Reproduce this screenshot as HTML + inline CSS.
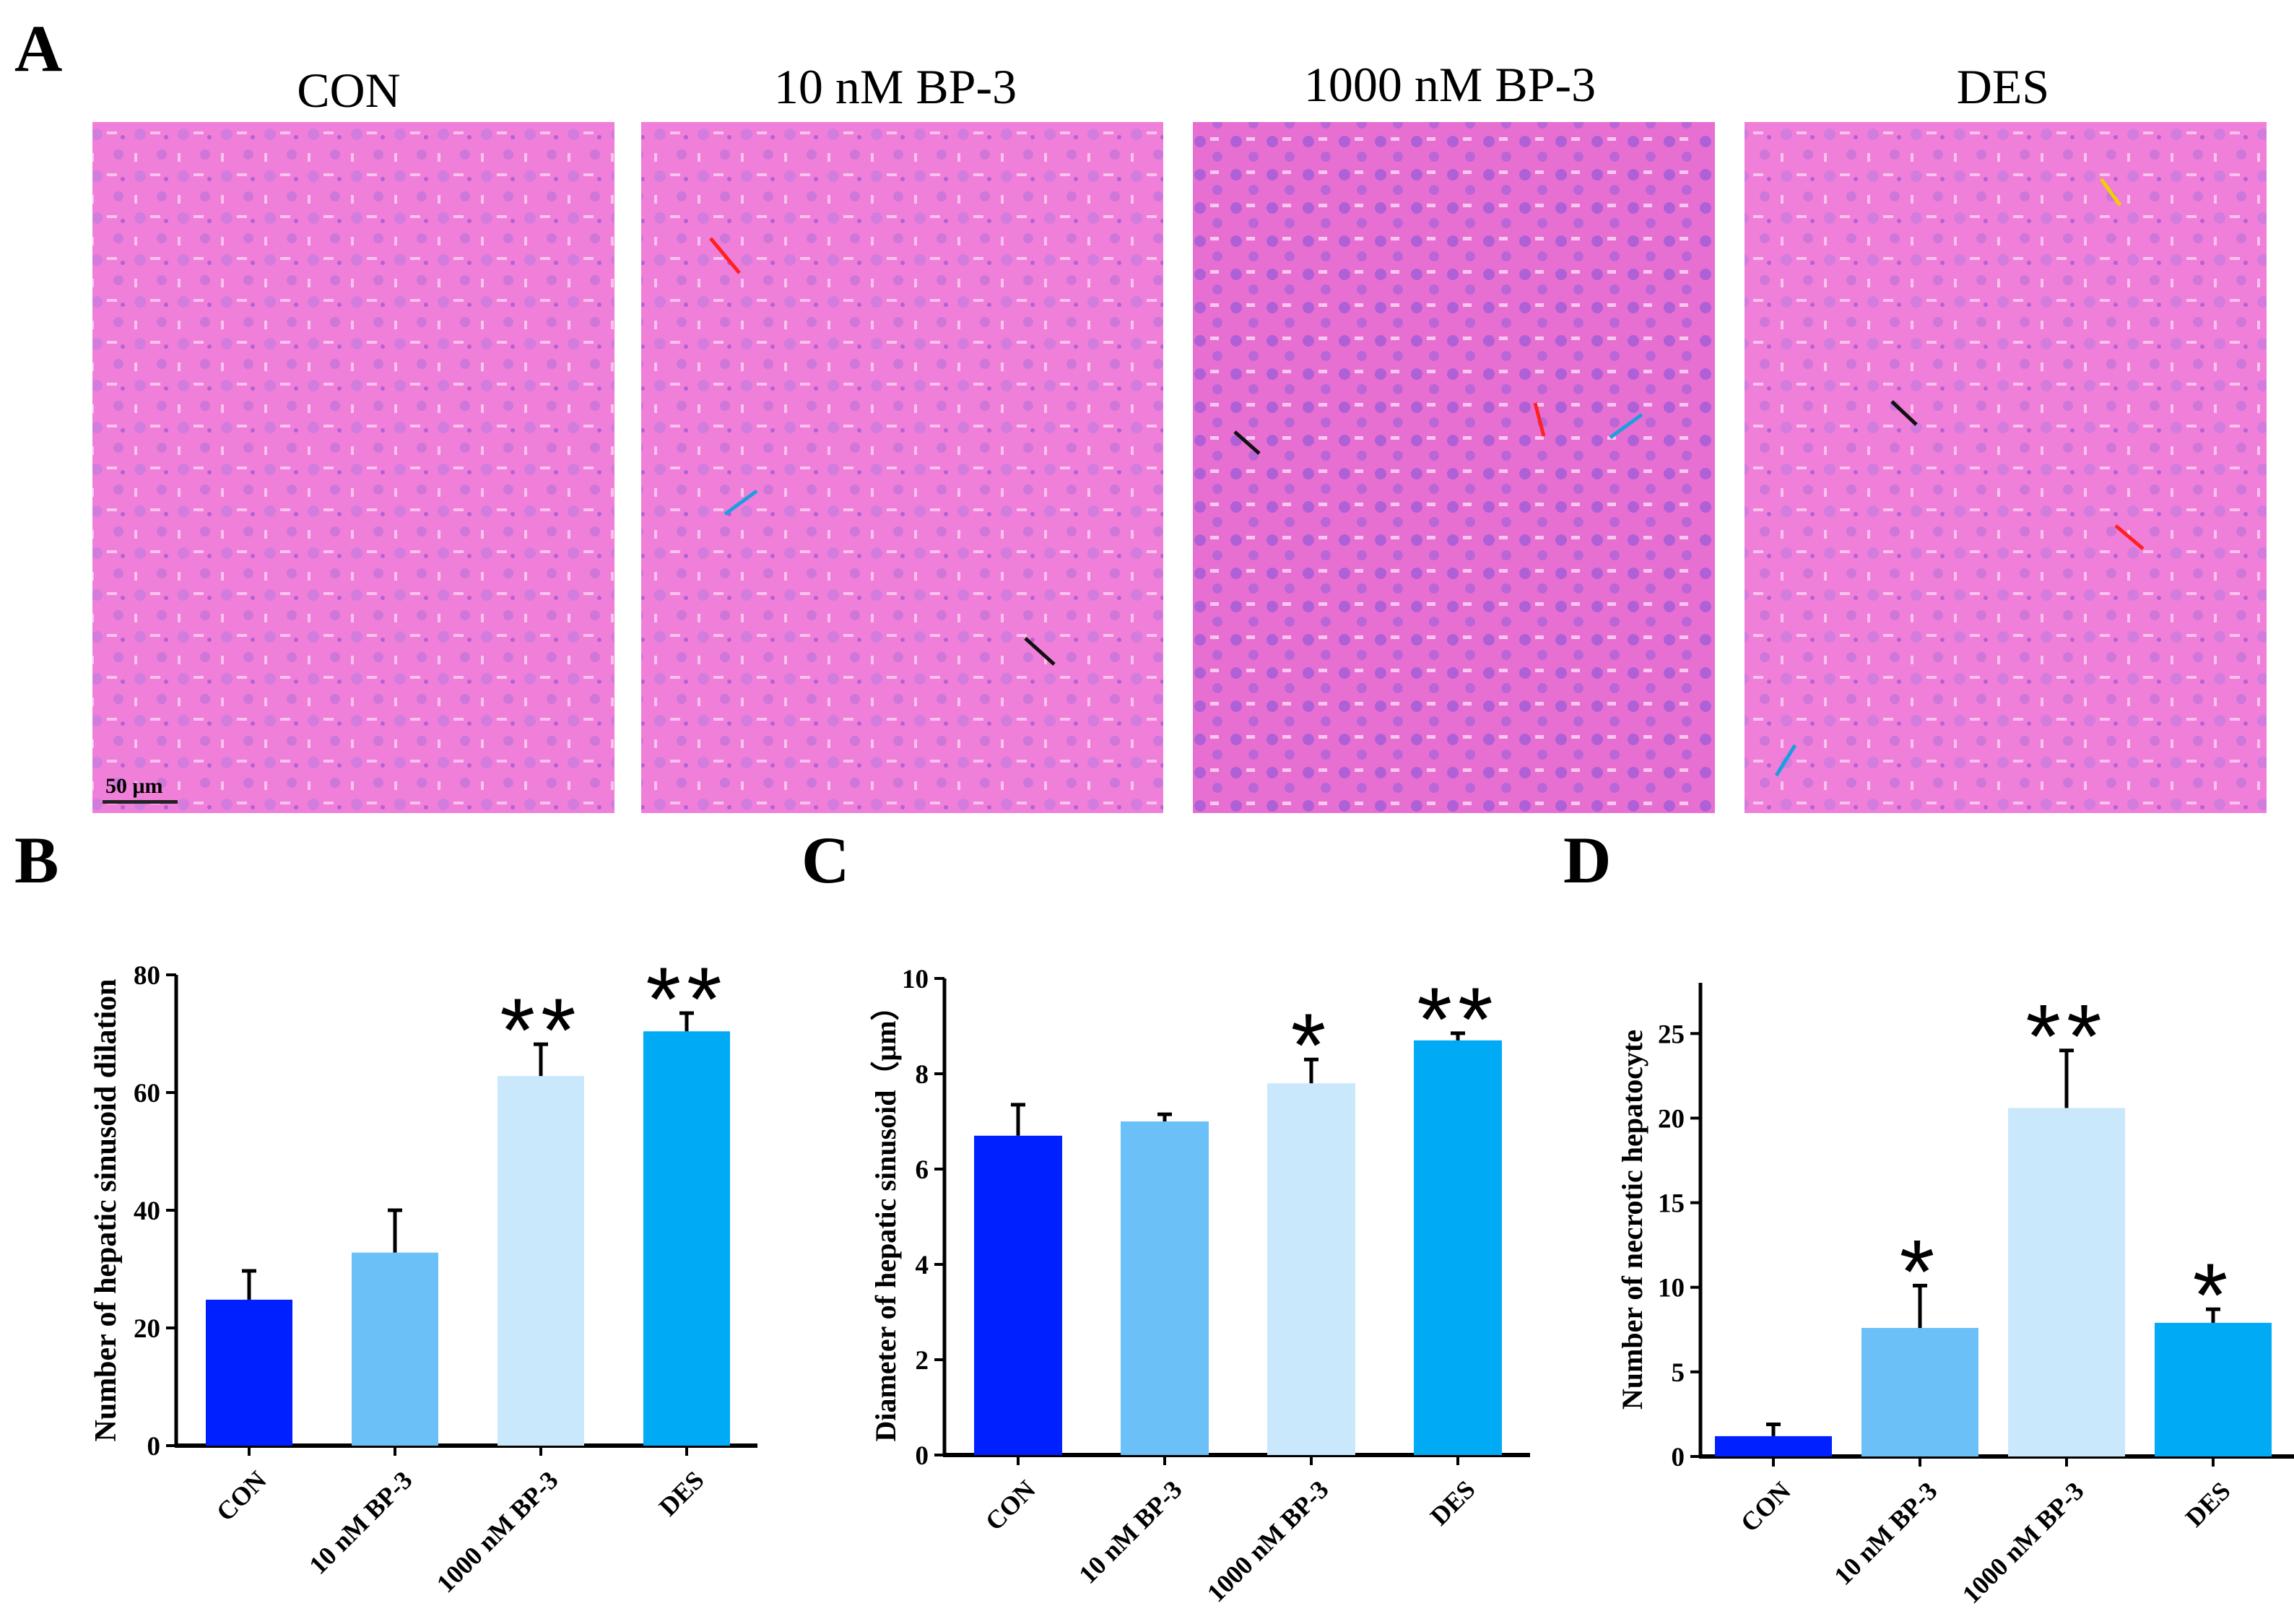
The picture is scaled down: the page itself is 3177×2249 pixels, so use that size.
<!DOCTYPE html>
<html><head><meta charset="utf-8">
<style>
html,body{margin:0;padding:0;background:#fff;}
svg{display:block;font-family:"Liberation Serif",serif;}
</style></head>
<body>
<svg id="fig" width="3177" height="2249" viewBox="0 0 3177 2249" xmlns="http://www.w3.org/2000/svg">
<defs>
<pattern id="tissue" width="60" height="58" patternUnits="userSpaceOnUse">
<rect width="60" height="58" fill="#f07fd9"/>
<circle cx="14" cy="12" r="8" fill="#c57be0" opacity="0.7"/>
<circle cx="44" cy="40" r="7" fill="#b96fd8" opacity="0.6"/>
<rect x="28" y="8" width="14" height="4" fill="#fbd4f3" opacity="0.8"/>
<rect x="6" y="38" width="4" height="12" fill="#fbd4f3" opacity="0.8"/>
<circle cx="50" cy="16" r="3" fill="#8a4fd0" opacity="0.6"/>
</pattern>
<pattern id="tissue2" width="50" height="46" patternUnits="userSpaceOnUse">
<rect width="50" height="46" fill="#e86fd2"/>
<circle cx="12" cy="12" r="8" fill="#9c5ad6" opacity="0.75"/>
<circle cx="36" cy="33" r="7" fill="#a862d8" opacity="0.7"/>
<rect x="26" y="6" width="12" height="5" fill="#fbd6f4" opacity="0.85"/>
</pattern>
</defs>

<text x="20" y="98" font-size="92" font-weight="bold">A</text>
<text x="483" y="148" font-size="68" text-anchor="middle">CON</text>
<text x="1240" y="143" font-size="68" text-anchor="middle">10 nM BP-3</text>
<text x="2008" y="140" font-size="68" text-anchor="middle">1000 nM BP-3</text>
<text x="2774" y="143" font-size="68" text-anchor="middle">DES</text>

<rect x="128" y="169" width="723" height="957" fill="url(#tissue)"/>
<rect x="888" y="169" width="723" height="957" fill="url(#tissue)"/>
<rect x="1652" y="169" width="723" height="957" fill="url(#tissue2)"/>
<rect x="2416" y="169" width="723" height="957" fill="url(#tissue)"/>
<text x="146" y="1098" font-size="30" font-weight="bold">50 μm</text>
<rect x="142" y="1108" width="104" height="5" fill="#222"/>
<g stroke-width="5" fill="none">
<line x1="984" y1="330" x2="1024" y2="378" stroke="#ff2020"/>
<line x1="1048" y1="680" x2="1004" y2="712" stroke="#1aa0e0"/>
<line x1="1460" y1="920" x2="1420" y2="884" stroke="#111"/>
<line x1="1744" y1="628" x2="1710" y2="598" stroke="#111"/>
<line x1="2126" y1="558" x2="2138" y2="604" stroke="#ff2020"/>
<line x1="2274" y1="574" x2="2230" y2="606" stroke="#1aa0e0"/>
<line x1="2910" y1="248" x2="2936" y2="284" stroke="#f0d000"/>
<line x1="2620" y1="556" x2="2654" y2="588" stroke="#111"/>
<line x1="2968" y1="760" x2="2930" y2="728" stroke="#ff2020"/>
<line x1="2460" y1="1074" x2="2486" y2="1032" stroke="#1aa0e0"/>
</g>

<text x="20" y="1222" font-size="92" font-weight="bold">B</text>
<text x="1110" y="1222" font-size="92" font-weight="bold">C</text>
<text x="2165" y="1222" font-size="92" font-weight="bold">D</text>
<g id="charts"></g>
</svg>
<script>
const categories = ["CON", "10 nM BP-3", "1000 nM BP-3", "DES"];
const barColors = ["#0020ff", "#6cc0f8", "#c9e8fb", "#00aaf5"];
const valuesB = [24.8, 32.8, 62.8, 70.4];
const errorsB = [4.9, 7.2, 5.4, 3.1];
const starsB = ["", "", "**", "**"];
const ticksB = [0, 20, 40, 60, 80];
const valuesC = [6.7, 7.0, 7.8, 8.7];
const errorsC = [0.65, 0.15, 0.5, 0.15];
const starsC = ["", "", "*", "**"];
const ticksC = [0, 2, 4, 6, 8, 10];
const valuesD = [1.2, 7.6, 20.6, 7.9];
const errorsD = [0.7, 2.5, 3.4, 0.8];
const starsD = ["", "*", "**", "*"];
const ticksD = [0, 5, 10, 15, 20, 25];

const NS = "http://www.w3.org/2000/svg";
const root = document.getElementById("charts");
function mk(tag, attrs, parent) {
  const e = document.createElementNS(NS, tag);
  for (const k in attrs) e.setAttribute(k, attrs[k]);
  (parent || root).appendChild(e);
  return e;
}
function chart(key, cfg, vals, errs, stars, ticks, title) {
  const g = mk("g", {});
  
  
  const y = v => cfg.y0 - v / cfg.max * (cfg.y0 - cfg.yTop);
  const x = i => cfg.x0 + cfg.first + i * cfg.step;
  const ya = mk("line", {x1: cfg.x0, y1: cfg.y0 + 2, x2: cfg.x0, y2: cfg.yTop, stroke: "#000", "stroke-width": 5}, g);
  
  
  const xa = mk("line", {x1: cfg.x0 - 2, y1: cfg.y0, x2: cfg.xEnd, y2: cfg.y0, stroke: "#000", "stroke-width": 6}, g);
  
  
  ticks.forEach(t => {
    const tl = mk("line", {x1: cfg.x0 - 14, y1: y(t), x2: cfg.x0, y2: y(t), stroke: "#000", "stroke-width": 4}, g);
    
    
    const tt = mk("text", {x: cfg.x0 - 22, y: y(t) + 13, "font-size": 37, "font-weight": "bold", "text-anchor": "end"}, g);
    tt.textContent = t;
    
    
  });
  const at = mk("text", {x: 0, y: 0, "font-size": cfg.titleSize, "font-weight": "bold", "text-anchor": "middle", transform: `translate(${cfg.titleX},${(cfg.y0 + cfg.yTop) / 2}) rotate(-90)`}, g);
  at.textContent = title;
  
  
  vals.forEach((v, i) => {
    const cx = x(i);
    const b = mk("rect", {x: cx - cfg.bw / 2, y: y(v), width: cfg.bw, height: cfg.y0 - y(v), fill: barColors[i]}, g);
    
    
    const et = y(v + errs[i]);
    const e1 = mk("line", {x1: cx, y1: y(v), x2: cx, y2: et, stroke: "#000", "stroke-width": 5}, g);
    
    
    const e2 = mk("line", {x1: cx - 10, y1: et, x2: cx + 10, y2: et, stroke: "#000", "stroke-width": 5}, g);
    
    
    if (stars[i]) {
      const s = mk("text", {x: cx, y: et + 24, "font-size": 125, "text-anchor": "middle", "letter-spacing": "8", "font-family": "Liberation Sans, sans-serif"}, g);
      s.textContent = stars[i];
      
      
    }
    const xt = mk("line", {x1: cx, y1: cfg.y0, x2: cx, y2: cfg.y0 + 14, stroke: "#000", "stroke-width": 4}, g);
    
    
    const lb = mk("text", {x: 0, y: 0, "font-size": 36, "font-weight": "bold", "text-anchor": "end", transform: `translate(${cx + 26},${cfg.y0 + 50}) rotate(-45)`}, g);
    lb.textContent = categories[i];
    
    
  });
}
chart("b", {x0: 244, y0: 2002, yTop: 1350, max: 80, xEnd: 1049, first: 101, step: 202, bw: 120, titleX: 160, titleSize: 42}, valuesB, errorsB, starsB, ticksB, "Number of hepatic sinusoid dilation");
chart("c", {x0: 1308, y0: 2015, yTop: 1355, max: 10, xEnd: 2119, first: 102, step: 203, bw: 122, titleX: 1240, titleSize: 40}, valuesC, errorsC, starsC, ticksC, "Diameter of hepatic sinusoid（μm）");
chart("d", {x0: 2355, y0: 2017, yTop: 1361, max: 28, xEnd: 3177, first: 101, step: 203, bw: 162, titleX: 2274, titleSize: 40}, valuesD, errorsD, starsD, ticksD, "Number of necrotic hepatocyte");
</script>
</body></html>
